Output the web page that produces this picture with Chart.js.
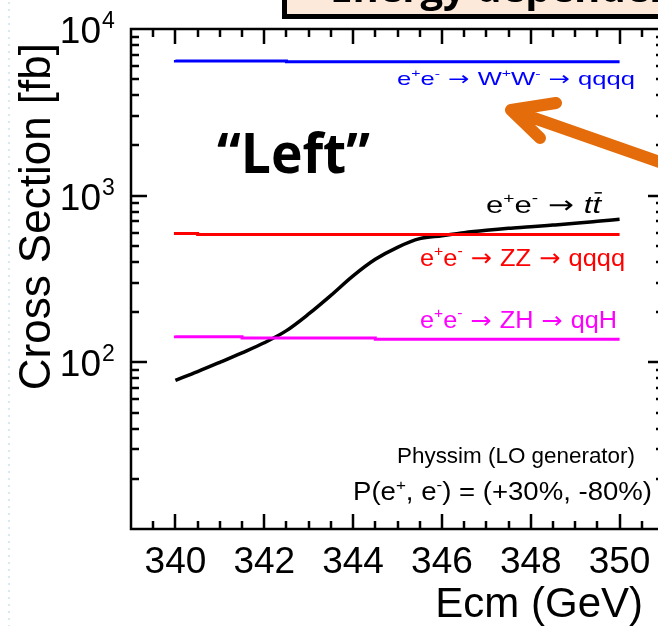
<!DOCTYPE html>
<html lang="en">
<head>
    <meta charset="UTF-8">
    <title>Cross Section vs Ecm</title>
    <script src="https://cdn.jsdelivr.net/npm/chart.js"></script>
    <style>
        html, body { margin: 0; padding: 0; background: #fff; overflow: hidden; }
        #wrap { width: 658px; height: 626px; overflow: hidden; position: relative; }
        canvas { position: absolute; left: 0; top: 0; }
    </style>
</head>
<body>
    <div id="wrap">
        <canvas id="xsecChart" width="680" height="626"></canvas>
    </div>

    <script>
        // Data (Ecm in GeV, cross section in fb)
        const ttEcm = [340, 340.5, 341, 341.5, 342, 342.5, 343, 343.5, 344, 344.5, 345,
                       345.5, 346, 346.5, 347, 347.5, 348, 348.5, 349, 349.5, 350];
        const ttXsec = [78, 88, 100, 114, 131, 155, 195, 252, 330, 415, 490,
                        552, 575, 600, 620, 637, 650, 666, 683, 702, 722];

        const wwEcm = [340, 342.5, 347.5, 350];
        const wwXsec = [6520, 6430, 6360, 6360];

        const zzEcm = [340, 340.5, 345.5, 350];
        const zzXsec = [606, 593, 585, 585];

        const zhEcm = [340, 341.5, 344.5, 347.5, 350];
        const zhXsec = [145, 142.5, 140, 137.5, 137.5];

        const xTicks = [340, 342, 344, 346, 348, 350];
        const xMinorTicks = [339, 339.5, 340, 340.5, 341, 341.5, 342, 342.5, 343, 343.5, 344, 344.5,
                             345, 345.5, 346, 346.5, 347, 347.5, 348, 348.5, 349, 349.5, 350, 350.5, 351];
        const yDecades = [2, 3, 4];

        const FONT = "'Liberation Sans', Arial, sans-serif";
        const ARROW = ' \u2192 ';

        function pts(xs, ys) {
            return xs.map((x, i) => ({ x: x, y: ys[i] }));
        }

        // text made of pieces [text, kind]: 'n' normal, 's' superscript, 'a' arrow, 'i' italic, 'ib' italic with bar
        function drawRich(ctx, parts, xLeft, baseline, size, color, width) {
            const fontFor = k => {
                if (k === 's') return (size * 0.62) + 'px ' + FONT;
                if (k === 'a') return size + "px 'DejaVu Sans', sans-serif";
                if (k === 'i' || k === 'ib') return 'italic ' + size + 'px ' + FONT;
                return size + 'px ' + FONT;
            };
            let total = 0;
            parts.forEach(p => { ctx.font = fontFor(p[1]); total += ctx.measureText(p[0]).width; });
            const sx = width ? width / total : 1;
            ctx.save();
            ctx.translate(xLeft, baseline);
            ctx.scale(sx, 1);
            ctx.fillStyle = color;
            ctx.strokeStyle = color;
            ctx.textAlign = 'left';
            ctx.textBaseline = 'alphabetic';
            let x = 0;
            parts.forEach(p => {
                ctx.font = fontFor(p[1]);
                const w = ctx.measureText(p[0]).width;
                const dy = p[1] === 's' ? -size * 0.42 : 0;
                ctx.fillText(p[0], x, dy);
                if (p[1] === 'ib') {
                    ctx.lineWidth = 1.5;
                    ctx.beginPath();
                    ctx.moveTo(x + w * 0.25, -size * 0.84);
                    ctx.lineTo(x + w * 1.1, -size * 0.84);
                    ctx.stroke();
                }
                x += w;
            });
            ctx.restore();
        }

        // frame and inward ticks on all four sides
        function drawFrame(chart) {
            const ctx = chart.ctx;
            const xs = chart.scales.x;
            const ys = chart.scales.y;
            const a = chart.chartArea;
            ctx.save();
            ctx.strokeStyle = '#000000';
            ctx.lineWidth = 2.5;
            ctx.lineCap = 'butt';
            ctx.setLineDash([]);
            ctx.beginPath();
            ctx.rect(a.left, a.top, a.right - a.left, a.bottom - a.top);
            xMinorTicks.forEach(v => {
                const px = Math.round(xs.getPixelForValue(v));
                const len = xTicks.indexOf(v) >= 0 ? 15 : 8;
                ctx.moveTo(px, a.bottom);
                ctx.lineTo(px, a.bottom - len);
                ctx.moveTo(px, a.top);
                ctx.lineTo(px, a.top + len);
            });
            [1, 2, 3].forEach(n => {
                [1, 2, 3, 4, 5, 6, 7, 8, 9].forEach(k => {
                    const py = Math.round(ys.getPixelForValue(k * Math.pow(10, n)));
                    const len = k === 1 ? 16 : 8;
                    ctx.moveTo(a.left, py);
                    ctx.lineTo(a.left + len, py);
                    ctx.moveTo(a.right, py);
                    ctx.lineTo(a.right - len, py);
                });
            });
            ctx.stroke();
            ctx.restore();
        }

        const decorations = {
            id: 'decorations',
            afterDraw(chart) {
                const ctx = chart.ctx;
                const xs = chart.scales.x;
                const ys = chart.scales.y;

                ctx.save();
                ctx.textBaseline = 'alphabetic';

                // slide border dots on the left
                ctx.fillStyle = '#d6eaf0';
                for (let y = 2; y < 626; y += 7) ctx.fillRect(8, y, 2, 2);

                ctx.fillStyle = '#000';

                // x tick labels
                ctx.font = '37px ' + FONT;
                ctx.textAlign = 'center';
                xTicks.forEach(v => {
                    ctx.fillText(String(v), xs.getPixelForValue(v), 573);
                });

                // y tick labels 10^n
                yDecades.forEach(n => {
                    const py = ys.getPixelForValue(Math.pow(10, n));
                    ctx.font = '37px ' + FONT;
                    ctx.textAlign = 'right';
                    ctx.fillText('10', 101, py + 14);
                    ctx.font = '23px ' + FONT;
                    ctx.textAlign = 'left';
                    ctx.fillText(String(n), 102, py - 1);
                });

                // axis titles
                ctx.font = '42px ' + FONT;
                ctx.textAlign = 'right';
                ctx.fillText('Ecm (GeV)', 643, 617);

                ctx.save();
                ctx.translate(50, 43);
                ctx.rotate(-Math.PI / 2);
                ctx.font = '44px ' + FONT;
                ctx.textAlign = 'right';
                ctx.fillText('Cross Section [fb]', 0, 0);
                ctx.restore();

                // process labels
                drawRich(ctx, [['e', 'n'], ['+', 's'], ['e', 'n'], ['-', 's'], [ARROW, 'a'], ['W', 'n'], ['+', 's'],
                    ['W', 'n'], ['-', 's'], [ARROW, 'a'], ['qqqq', 'n']], 397, 85, 19, '#0000ff', 238);
                drawRich(ctx, [['e', 'n'], ['+', 's'], ['e', 'n'], ['-', 's'], [ARROW, 'a'], ['t', 'i'],
                    ['t', 'ib']], 486, 213, 24, '#000', 115);
                drawRich(ctx, [['e', 'n'], ['+', 's'], ['e', 'n'], ['-', 's'], [ARROW, 'a'], ['ZZ', 'n'],
                    [ARROW, 'a'], ['qqqq', 'n']], 420, 266, 24, '#ff0000', 205);
                drawRich(ctx, [['e', 'n'], ['+', 's'], ['e', 'n'], ['-', 's'], [ARROW, 'a'], ['ZH', 'n'],
                    [ARROW, 'a'], ['qqH', 'n']], 420, 328, 23, '#ff00ff', 197);
                drawRich(ctx, [['Physsim (LO generator)', 'n']], 397, 463, 22, '#000', 238);
                drawRich(ctx, [['P(e', 'n'], ['+', 's'], [', e', 'n'], ['-', 's'], [') = (+30%, -80%)', 'n']],
                    353, 500, 25, '#000', 299);

                // "Left" annotation
                ctx.font = 'bold 56px "Open Sans", Lato, sans-serif';
                const lw = ctx.measureText('\u201CLeft\u201D').width;
                ctx.save();
                ctx.translate(217, 173);
                ctx.scale(153 / lw, 1);
                ctx.textAlign = 'left';
                ctx.fillStyle = '#000';
                ctx.fillText('\u201CLeft\u201D', 0, 0);
                ctx.restore();

                // orange arrow
                ctx.strokeStyle = '#e46c0a';
                ctx.lineWidth = 12;
                ctx.lineCap = 'round';
                ctx.lineJoin = 'round';
                ctx.beginPath();
                ctx.moveTo(556, 103);
                ctx.lineTo(511, 110);
                ctx.lineTo(540, 138);
                ctx.moveTo(511, 110);
                ctx.lineTo(720, 183);
                ctx.stroke();

                // title box cut off at the top
                ctx.fillStyle = '#fde9d9';
                ctx.fillRect(285, -10, 420, 26);
                ctx.fillStyle = '#000';
                ctx.fillRect(282, -10, 5, 29);
                ctx.fillRect(282, 14, 420, 5);
                ctx.save();
                ctx.beginPath();
                ctx.rect(287, 0, 420, 14);
                ctx.clip();
                ctx.font = 'bold 40px "Open Sans", Lato, sans-serif';
                ctx.textAlign = 'left';
                ctx.textBaseline = 'alphabetic';
                ctx.fillText('Energy dependence', 330, 2);
                ctx.restore();

                ctx.restore();

                drawFrame(chart);
            }
        };

        const ctx = document.getElementById('xsecChart').getContext('2d');
        new Chart(ctx, {
            type: 'line',
            data: {
                datasets: [
                    { label: 'WW', data: pts(wwEcm, wwXsec), borderColor: '#0000ff', borderWidth: 3, stepped: 'after', pointRadius: 0 },
                    { label: 'ZZ', data: pts(zzEcm, zzXsec), borderColor: '#ff0000', borderWidth: 3, stepped: 'after', pointRadius: 0 },
                    { label: 'ZH', data: pts(zhEcm, zhXsec), borderColor: '#ff00ff', borderWidth: 3, stepped: 'after', pointRadius: 0 },
                    { label: 'ttbar', data: pts(ttEcm, ttXsec), borderColor: '#000000', borderWidth: 3.5, cubicInterpolationMode: 'monotone', pointRadius: 0 }
                ]
            },
            options: {
                responsive: false,
                animation: false,
                events: [],
                layout: { padding: { left: 131, top: 29, right: 16, bottom: 97 } },
                plugins: { legend: { display: false }, tooltip: { enabled: false } },
                scales: {
                    x: { type: 'linear', min: 339, max: 351, display: false },
                    y: { type: 'logarithmic', min: 10, max: 10000, display: false }
                }
            },
            plugins: [decorations]
        });
    </script>
</body>
</html>
